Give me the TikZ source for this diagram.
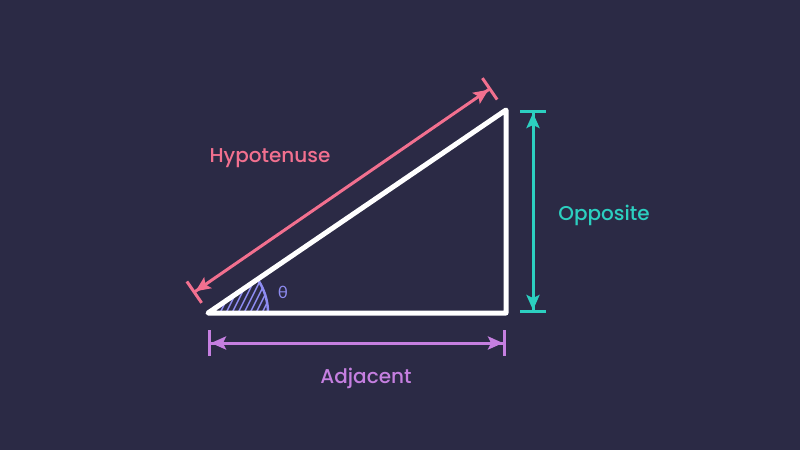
\documentclass[tikz,border=0pt]{standalone}
\usepackage{fontspec}
\setmainfont{Poppins}
\newfontfamily\pmed{Poppins Medium}
\newfontfamily\greek{Lato}
\usetikzlibrary{arrows.meta,calc}
\definecolor{bg}{HTML}{2B2A45}
\definecolor{hyp}{HTML}{F2708F}
\definecolor{opp}{HTML}{2CCFC0}
\definecolor{adj}{HTML}{C57FE0}
\definecolor{ang}{HTML}{8E8CF2}
\tikzset{
  dim/.style={line width=3pt, {Bar[width=26pt,line width=3pt]Stealth[length=15pt,width=13pt,inset=3pt]}-{Stealth[length=15pt,width=13pt,inset=3pt]Bar[width=26pt,line width=3pt]}},
  lbl/.style={font=\pmed\fontsize{20}{24}\selectfont, inner sep=0pt},
}
\begin{document}
\begin{tikzpicture}[x=1pt,y=-1pt]
\fill[bg] (0,0) rectangle (800,450);
\useasboundingbox (0,0) rectangle (800,450);
\coordinate (A) at (208,313);
\coordinate (B) at (506,313);
\coordinate (C) at (506,110);
% angle hatch
\begin{scope}
\clip (A) -- ($(A)+(60,0)$) arc[start angle=0,end angle=-34.3,radius=60] -- cycle;
\foreach \i in {-90,-84,...,90} {
  \draw[ang, line width=1.4pt] ($(A)+(\i,0)+(-35,70)$) -- ++(70,-140);
}
\end{scope}
\draw[ang, line width=2.5pt] ($(A)+(60,0)$) arc[start angle=0,end angle=-34.3,radius=60];
\node[inner sep=0pt, text=ang, font=\greek\fontsize{17}{20}\selectfont] (theta) at (283,292) {θ};
% triangle
\draw[white, line width=5pt, line join=round] (A) -- (B) -- (C) -- cycle;
% dimension arrows
\coordinate (h1) at (193,293);
\coordinate (h2) at (491,88);
\draw[hyp, dim] (h1) -- (h2);
\coordinate (o1) at (533,110);
\coordinate (o2) at (533,313);
\draw[opp, dim] (o1) -- (o2);
\coordinate (a1) at (208,343);
\coordinate (a2) at (506,343);
\draw[adj, dim] (a1) -- (a2);
% labels
\node[lbl, text=hyp] (hl) at (270,158) {Hypotenuse};
\node[lbl, text=opp] (ol) at (604,215) {Opposite};
\node[lbl, text=adj] (al) at (366,378) {Adjacent};
\end{tikzpicture}
\end{document}
